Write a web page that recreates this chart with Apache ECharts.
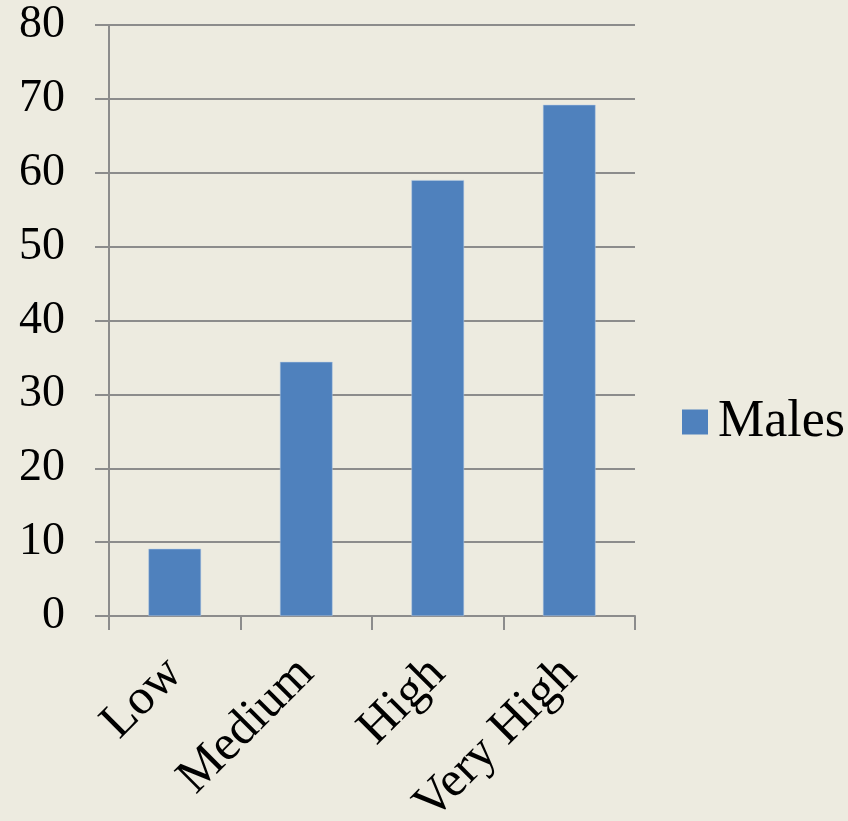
<!DOCTYPE html>
<html><head><meta charset="utf-8">
<script src="https://cdn.jsdelivr.net/npm/echarts@6/dist/echarts.min.js"></script>
<style>html,body{margin:0;padding:0;background:#EDEBE0;}#c{width:848px;height:821px;}</style>
</head><body><div id="c"></div>
<script>
const categories = ["Low", "Medium", "High", "Very High"];
const males = [9.1, 34.4, 59, 69.2];
const yTicks = [0, 80, 10];
const seriesName = "Males";

const chart = echarts.init(document.getElementById('c'));
const font = "'Liberation Serif', 'DejaVu Serif', serif";
chart.setOption({
  backgroundColor: '#EDEBE0',
  animation: false,
  grid: { left: 109, right: 213, top: 25, bottom: 205, containLabel: false, outerBoundsMode: 'none' },
  legend: {
    data: [seriesName], orient: 'vertical', left: 677, top: 391,
    icon: 'rect', itemWidth: 26, itemHeight: 25, itemGap: 10,
    itemStyle: { borderWidth: 0 },
    textStyle: { fontFamily: font, fontSize: 52, color: '#000', padding: [0,0,0,5] }
  },
  xAxis: {
    type: 'category', data: categories, boundaryGap: true,
    axisLine: { lineStyle: { color: '#8C8C8C', width: 2 } },
    axisTick: { show: true, length: 14, alignWithLabel: false, lineStyle: { color: '#8C8C8C', width: 2 } },
    axisLabel: { rotate: 45, fontFamily: font, fontSize: 50, color: '#000', margin: 50, interval: 0 }
  },
  yAxis: {
    type: 'value', min: yTicks[0], max: yTicks[1], interval: yTicks[2],
    axisLine: { show: true, lineStyle: { color: '#8C8C8C', width: 2 } },
    axisTick: { show: true, length: 14, lineStyle: { color: '#8C8C8C', width: 2 } },
    splitLine: { lineStyle: { color: '#8C8C8C', width: 2 } },
    axisLabel: { fontFamily: font, fontSize: 46, color: '#000', margin: 44 }
  },
  series: [{
    name: seriesName, type: 'bar', data: males, barWidth: '40%',
    itemStyle: { color: '#4F81BD', borderColor: '#B9CDE5', borderWidth: 0.5 }
  }]
});
</script></body></html>
